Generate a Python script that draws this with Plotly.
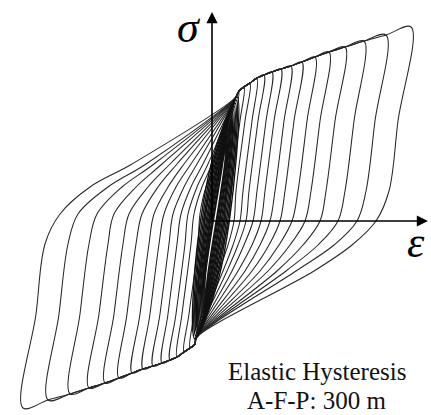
import plotly.graph_objects as go

# ---- large cycles (outermost first) --------------------------------------
# reversal point at the top right of each cycle
tip_hi_eps = [99.5, 87, 76, 66.5, 58.5, 51.5, 45, 39.5, 34.5, 30, 26, 22.5, 19, 16, 13.5]
tip_hi_sig = [97, 93, 90, 87, 84.5, 82, 79.5, 77.5, 76, 74.5, 73, 71.5, 69, 67, 65]
# reversal point at the bottom left of each cycle
tip_lo_eps = [-94.5, -82, -71, -61.5, -53.5, -46.5, -40, -34.5, -29.5, -25, -21, -17.5, -14, -11, -8.5]
tip_lo_sig = [-93.5, -89.5, -86.5, -83.5, -81, -78.5, -76, -74, -72.5, -71, -69.5, -68, -65.5, -63.5, -61.5]

# unloading branches: strain at which each one passes the stress levels below
unload_sig = [50, 15, 0, -12, -25]
unload_eps = [
    [93, 88.5, 82, 70, 51],
    [81.5, 77, 72.5, 61, 42],
    [71, 66.5, 63, 53, 37],
    [61.5, 57, 54, 45.5, 32.5],
    [54, 49.5, 46.5, 39, 28],
    [47.5, 43, 40, 33.5, 24],
    [41, 36.5, 34, 28.5, 20],
    [36, 31.5, 29, 24, 16.5],
    [31, 26.5, 24.5, 20, 13],
    [27, 22.5, 20.5, 16, 10],
    [23, 18.5, 17, 13, 7.5],
    [20, 15.5, 14, 10.5, 5.5],
    [16.5, 12, 11, 8, 3.5],
    [14, 9.5, 8.5, 5.5, 1.5],
    [11.5, 7, 6, 3.5, 0],
]

# loading branches: strain at which each one passes the stress levels below
load_sig = [-46.5, -11.5, 3.5, 17, 28.5]
load_eps = [
    [-88, -83.5, -76, -61, -40],
    [-76.5, -72, -67, -52, -33],
    [-66, -61.5, -57.5, -45, -29],
    [-56.5, -52, -49, -38, -25],
    [-49, -44.5, -41.5, -32, -21],
    [-42.5, -38, -35, -27, -17.5],
    [-36, -31.5, -29, -22, -14],
    [-31, -26.5, -24, -18, -10.5],
    [-26, -21.5, -19.5, -14, -7.5],
    [-22, -17.5, -15.5, -10.5, -4.5],
    [-18, -13.5, -12, -7.5, -2],
    [-15, -10.5, -9, -5, 0],
    [-11.5, -7, -6, -3, 2],
    [-9, -4.5, -3.5, -0.5, 3.5],
    [-6.5, -2, -1, 1.5, 5],
]

# points where all branches gather
pinch_hi = (12, 62)
pinch_lo = (-8, -58.5)

# ---- small cycles inside the dense central band ----------------------------
band_top_eps = [12.5, 12, 11.5, 11, 10.5, 10, 9.5, 9, 8.5, 8, 7.5, 7]
band_top_sig = [62, 60.5, 59, 57.5, 56, 54.5, 53, 51, 49, 47, 45, 43]
band_bot_eps = [-8.5, -8, -7.5, -7, -6.5, -6, -5.5, -5, -4.5, -4, -3.5, -3]
band_bot_sig = [-59, -57.5, -56, -54.5, -53, -51.5, -50, -48, -46, -44, -42, -40]
band_sig = [30, -30]
band_unload_eps = [[12, 3], [11.3, 2.3], [10.7, 1.7], [10.1, 1.1], [9.5, 0.5],
                   [9, 0], [8.5, -0.5], [8, -1], [7.6, -1.4], [7.2, -1.8],
                   [6.8, -2.2], [6.5, -2.5]]
band_load_eps = [[0, -9], [0.7, -8.3], [1.3, -7.7], [1.9, -7.1], [2.5, -6.5],
                 [3, -6], [3.5, -5.5], [4, -5], [4.4, -4.6], [4.8, -4.2],
                 [5.2, -3.8], [5.5, -3.5]]

LINE = dict(color="#262626", width=1.05, shape="spline", smoothing=1.0)
BAND = dict(color="#111111", width=1.4, shape="spline", smoothing=1.0)

fig = go.Figure()
n = len(tip_hi_eps)
for i in range(n):
    inner = list(range(n - 1, i, -1))
    xs = [tip_hi_eps[i]] + unload_eps[i] + [pinch_lo[0]]
    ys = [tip_hi_sig[i]] + unload_sig + [pinch_lo[1]]
    xs += [tip_lo_eps[j] for j in inner] + [tip_lo_eps[i]]
    ys += [tip_lo_sig[j] for j in inner] + [tip_lo_sig[i]]
    xs += load_eps[i] + [pinch_hi[0]]
    ys += load_sig + [pinch_hi[1]]
    xs += [tip_hi_eps[j] for j in inner] + [tip_hi_eps[i]]
    ys += [tip_hi_sig[j] for j in inner] + [tip_hi_sig[i]]
    fig.add_trace(go.Scatter(x=xs, y=ys, mode="lines", line=LINE,
                             hoverinfo="skip", showlegend=False))

for k in range(len(band_top_eps)):
    xs = ([band_top_eps[k]] + band_unload_eps[k] + [band_bot_eps[k]]
          + band_load_eps[k][::-1] + [band_top_eps[k]])
    ys = ([band_top_sig[k]] + band_sig + [band_bot_sig[k]]
          + band_sig[::-1] + [band_top_sig[k]])
    fig.add_trace(go.Scatter(x=xs, y=ys, mode="lines", line=BAND,
                             hoverinfo="skip", showlegend=False))

# coordinate axes drawn as arrows
arrow = dict(xref="x", yref="y", axref="x", ayref="y", text="", showarrow=True,
             arrowhead=2, arrowsize=1.4, arrowwidth=1.6, arrowcolor="#000",
             standoff=0, startstandoff=0)
fig.add_annotation(x=0, y=104.5, ax=0, ay=-0.5, **arrow)
fig.add_annotation(x=108, y=0, ax=-0.5, ay=0, **arrow)

sym_font = dict(family="Liberation Serif", size=44, color="#000")
fig.add_annotation(x=-11.5, y=97, text="<i>σ</i>", showarrow=False, font=sym_font,
                   xref="x", yref="y")
fig.add_annotation(x=102, y=-10.5, text="<i>ε</i>", showarrow=False, font=sym_font,
                   xref="x", yref="y")

txt_font = dict(family="Liberation Serif", size=25, color="#111")
fig.add_annotation(x=52.5, y=-75, text="Elastic Hysteresis", showarrow=False,
                   font=txt_font, xref="x", yref="y")
fig.add_annotation(x=52, y=-89.5, text="A-F-P: 300 m", showarrow=False,
                   font=txt_font, xref="x", yref="y")

fig.update_layout(
    width=431, height=415,
    margin=dict(l=0, r=0, t=0, b=0),
    paper_bgcolor="white", plot_bgcolor="white",
    xaxis=dict(range=[-106, 109.5], visible=False),
    yaxis=dict(range=[-97, 110.5], visible=False),
)

fig.write_html("out.html")
